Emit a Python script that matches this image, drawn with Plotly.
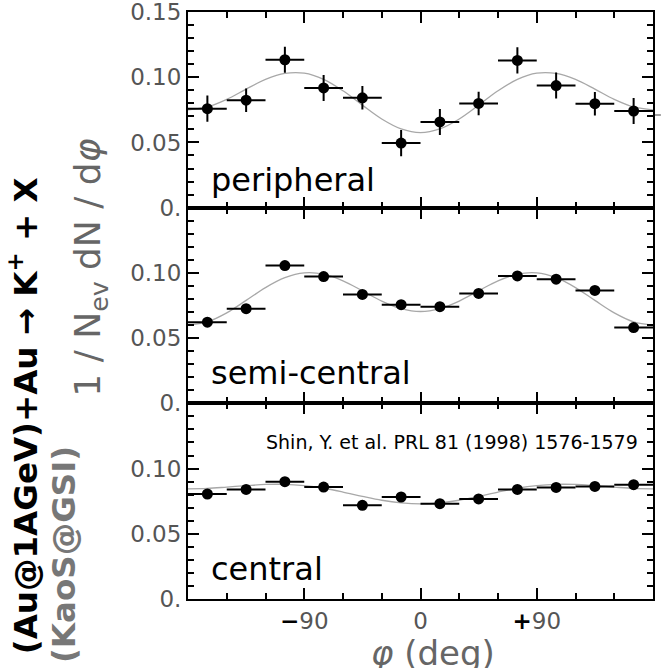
import plotly.graph_objects as go
from plotly.subplots import make_subplots

# ---- data ----
phi = [-165, -135, -105, -75, -45, -15, 15, 45, 75, 105, 135, 165]
phi_halfwidth = [15] * 12

peripheral = [0.0759, 0.0824, 0.1134, 0.0918, 0.0842, 0.0495, 0.0657, 0.0799, 0.1129, 0.0936, 0.0797, 0.0741]
peripheral_err = [0.010, 0.009, 0.010, 0.010, 0.009, 0.010, 0.010, 0.009, 0.010, 0.010, 0.009, 0.010]

semicentral = [0.0622, 0.0726, 0.1056, 0.0972, 0.0835, 0.0756, 0.0741, 0.0843, 0.0977, 0.0952, 0.0866, 0.0581]
semicentral_err = [0.003] * 12

central = [0.0805, 0.0840, 0.0899, 0.0858, 0.0718, 0.0782, 0.0731, 0.0767, 0.0840, 0.0855, 0.0863, 0.0876]
central_err = [0.003] * 12

# fit curves (every 15 deg)
fit_phi = [-180, -165, -150, -135, -120, -105, -90, -75, -60, -45, -30, -15, 0,
           15, 30, 45, 60, 75, 90, 105, 120, 135, 150, 165, 180]
fit_peripheral = [0.0750, 0.0772, 0.0830, 0.0909, 0.0983, 0.1029, 0.1031, 0.0984, 0.0896, 0.0786, 0.0680, 0.0604, 0.0576,
                  0.0604, 0.0680, 0.0786, 0.0896, 0.0984, 0.1031, 0.1029, 0.0983, 0.0909, 0.0830, 0.0772, 0.0750]
fit_semicentral = [0.0600, 0.0625, 0.0694, 0.0789, 0.0887, 0.0963, 0.1000, 0.0990, 0.0939, 0.0863, 0.0784, 0.0726, 0.0704,
                   0.0726, 0.0784, 0.0863, 0.0939, 0.0990, 0.1000, 0.0963, 0.0887, 0.0789, 0.0694, 0.0625, 0.0600]
fit_central = [0.0845, 0.0848, 0.0858, 0.0869, 0.0878, 0.0879, 0.0869, 0.0849, 0.0820, 0.0787, 0.0757, 0.0737, 0.0729,
               0.0737, 0.0757, 0.0787, 0.0820, 0.0849, 0.0869, 0.0879, 0.0878, 0.0869, 0.0858, 0.0848, 0.0845]

panel_names = ["peripheral", "semi-central", "central"]
x_tickvals = [-90, 0, 90]
x_ticktext = ["<span style='color:black'><b>−</b></span>90", "0", "<span style='color:black'><b>+</b></span>90"]
y_tickvals = [0, 0.05, 0.10, 0.15]
y_ticktext_top = ["0.", "0.05", "0.10", "0.15"]
y_ticktext_other = ["0.", "0.05", "0.10", ""]

# ---- figure ----
fig = make_subplots(rows=3, cols=1, shared_xaxes=True, vertical_spacing=0)

series = [(peripheral, peripheral_err, fit_peripheral),
          (semicentral, semicentral_err, fit_semicentral),
          (central, central_err, fit_central)]

for i, (vals, errs, fit) in enumerate(series, start=1):
    fig.add_trace(go.Scatter(x=fit_phi, y=fit, mode="lines", line=dict(color="#a8a8a8", width=1.3, shape="spline"),
                             showlegend=False, hoverinfo="skip"), row=i, col=1)
    fig.add_trace(go.Scatter(x=phi, y=vals, mode="markers",
                             marker=dict(color="black", size=11),
                             error_x=dict(type="data", array=phi_halfwidth, color="black", thickness=2, width=0),
                             error_y=dict(type="data", array=errs, color="black", thickness=2, width=0),
                             showlegend=False), row=i, col=1)

tickfont = dict(family="DejaVu Sans", size=23, color="#555555")
for i in range(1, 4):
    fig.update_xaxes(range=[-180, 180], tickmode="array", tickvals=x_tickvals, ticktext=x_ticktext,
                     ticks="inside", ticklen=11, tickwidth=1.5, tickcolor="black",
                     minor=dict(ticks="inside", ticklen=6, dtick=30, tick0=0, tickwidth=1.5, tickcolor="black"),
                     showline=True, linecolor="black", linewidth=2, mirror="ticks",
                     showgrid=False, zeroline=False, tickfont=tickfont, ticklabeloverflow="allow",
                     automargin=False, showticklabels=(i == 3), row=i, col=1)
    fig.update_yaxes(range=[0, 0.15001], tickmode="array", tickvals=y_tickvals,
                     ticktext=y_ticktext_top if i == 1 else y_ticktext_other,
                     ticks="inside", ticklen=11, tickwidth=1.5, tickcolor="black",
                     minor=dict(ticks="inside", ticklen=6, dtick=0.01, tick0=0, tickwidth=1.5, tickcolor="black"),
                     showline=True, linecolor="black", linewidth=2, mirror="ticks",
                     showgrid=False, zeroline=False, tickfont=tickfont, ticklabeloverflow="allow",
                     automargin=False, row=i, col=1)

annotations = []
label_y = [0.021, 0.023, 0.023]
for i, (name, ly) in enumerate(zip(panel_names, label_y), start=1):
    sfx = "" if i == 1 else str(i)
    annotations.append(dict(x=-164, y=ly, xref="x" + sfx, yref="y" + sfx, text=name, showarrow=False,
                            xanchor="left", yanchor="middle",
                            font=dict(family="DejaVu Sans", size=32, color="black")))

annotations.append(dict(x=170, y=0.1205, xref="x3", yref="y3", text="Shin, Y. et al. PRL 81 (1998) 1576-1579",
                        showarrow=False, xanchor="right", yanchor="middle",
                        font=dict(family="DejaVu Sans", size=19, color="black")))

# axis titles
annotations.append(dict(x=0.527, y=-0.054, xref="paper", yref="paper", text="<i>φ</i> (deg)",
                        showarrow=False, xanchor="center", yanchor="top",
                        font=dict(family="DejaVu Sans", size=34, color="#666666")))
annotations.append(dict(x=-0.21, y=0.565, xref="paper", yref="paper", text="1 / N<sub>ev</sub> dN / d<i>φ</i>",
                        showarrow=False, xanchor="center", yanchor="middle", textangle=-90,
                        font=dict(family="DejaVu Sans", size=36, color="#666666")))
annotations.append(dict(x=-0.352, y=0.312, xref="paper", yref="paper",
                        text="<b>(Au@1AGeV)+Au → K<sup>+</sup> + X</b>",
                        showarrow=False, xanchor="center", yanchor="middle", textangle=-90,
                        font=dict(family="DejaVu Sans", size=32.5, color="black")))
annotations.append(dict(x=-0.2665, y=0.075, xref="paper", yref="paper", text="<b>(KaoS@GSI)</b>",
                        showarrow=False, xanchor="center", yanchor="middle", textangle=-90,
                        font=dict(family="DejaVu Sans", size=32.5, color="#777777")))

fig.update_layout(width=663, height=668, margin=dict(l=188, r=10, t=12, b=69, autoexpand=False),
                  plot_bgcolor="white", paper_bgcolor="white", annotations=annotations,
                  shapes=[dict(type="line", xref="paper", yref="paper", x0=1.004, x1=1.017,
                               y0=(599 - 115) / 587, y1=(599 - 115) / 587,
                               line=dict(color="#444444", width=1))])

fig.write_html("out.html", config={"displayModeBar": False},
               post_script="document.body.style.margin='0px';")
